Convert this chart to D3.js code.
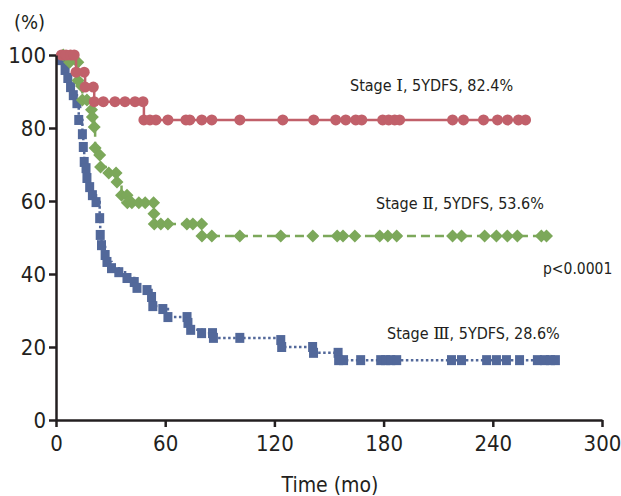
<!DOCTYPE html>
<html>
<head>
<meta charset="utf-8">
<script src="https://cdn.jsdelivr.net/npm/d3@7"></script>
<style>
	body { margin: 0; background: #fff; }
	svg text { font-family: "Liberation Sans Narrow", "DejaVu Sans Condensed", "Arial Narrow", sans-serif; fill: #231f20; }
</style>
</head>
<body>
<div id="chart"></div>
<script>
	// survival data: [time (mo), percent]
	var stageI = [[0,100],[3,100],[5.5,100],[8,100],[10,100],[11,95.3],[15.5,95.3],[16,91.2],[20.5,91.2],
		[21,87.2],[26,87.2],[32.4,87.2],[37.9,87.2],[43.4,87.2],[47.8,87.2],[48.3,82.2],[51.6,82.2],[54.9,82.2],
		[61.5,82.2],[71.4,82.2],[73.5,82.2],[80.1,82.2],[85.6,82.2],[101,82.2],[124.6,82.2],[141.6,82.2],
		[153.7,82.2],[159.2,82.2],[164.7,82.2],[168,82.2],[179.5,82.2],[182.8,82.2],[186.1,82.2],[188.8,82.2],
		[217.9,82.2],[223.9,82.2],[234.9,82.2],[242.6,82.2],[248.1,82.2],[254.1,82.2],[258,82.2]];
	var stageII = [[0,100],[4,100],[7.5,98],[12,98],[12.1,93],[14,91.5],[14.5,87.7],[17,87.7],[19.5,85],
		[20,83],[21,80.3],[21.5,74.5],[24,72.6],[24.5,69.3],[29,67.7],[33,67.7],[33.5,65.2],[36,61.6],[39,61.6],
		[39.2,59.5],[41.7,59.5],[45.5,59.5],[49,59.5],[53.6,59.5],[53.8,56.5],[54,53.7],[57.6,53.7],[61.5,53.7],
		[71.9,53.7],[75.2,53.7],[80,53.7],[80.2,50.4],[85.6,50.4],[101,50.4],[123.5,50.4],[141.1,50.4],
		[154.5,50.4],[157.7,50.4],[164.2,50.4],[177.9,50.4],[182.3,50.4],[187.2,50.4],[217.9,50.4],[222.8,50.4],
		[235.5,50.4],[242,50.4],[248,50.4],[253.5,50.4],[266.7,50.4],[269.5,50.4]];
	var stageIII = [[0,100],[3,98.6],[5,95.9],[6.5,93.7],[8,91.2],[9.5,89],[11.5,86.8],[12.5,82.2],
		[14.5,78.3],[15,74.8],[15.5,70.7],[16.5,69],[17,66.3],[18.5,63.8],[20,61.6],[22,59.7],[24,55.3],
		[24.3,50.7],[25,47.9],[27,45.2],[28,43.3],[30.5,41.6],[34.5,40.5],[39,38.9],[43,37.8],[44.5,36.2],
		[50,35.6],[52.5,33.7],[53.2,31.2],[58.7,30.4],[61.5,28.2],[72,28.2],[72.5,26.6],[74,24.7],[80,23.8],
		[86,23.8],[86.5,22.5],[101,22.5],[123.5,21.9],[124,20],[141,20],[141.5,18.4],[155,18.4],[155.3,16.4],
		[158,16.4],[167.4,16.4],[178.4,16.4],[181.1,16.4],[183.9,16.4],[187.2,16.4],[217.3,16.4],[222.8,16.4],
		[236.6,16.4],[242,16.4],[247.5,16.4],[254.7,16.4],[264.5,16.4],[268.4,16.4],[271.7,16.4],[274.4,16.4]];

	var xTicks = [0, 60, 120, 180, 240, 300];
	var yTicks = [0, 20, 40, 60, 80, 100];
	var stageNames = ["\u2160", "\u2161", "\u2162"];
	var labelTails = [", 5YDFS, 82.4%", ", 5YDFS, 53.6%", ", 5YDFS, 28.6%"];

	var width = 621, height = 496;
	var svg = d3.select('#chart').append('svg')
		.attr('width', width)
		.attr('height', height);

	var x = d3.scaleLinear().domain([0, 300]).range([56, 602]);
	var y = d3.scaleLinear().domain([0, 100]).range([420, 55]);

	var line = d3.line()
		.x(function (d) { return x(d[0]); })
		.y(function (d) { return y(d[1]); })
		.curve(d3.curveStepAfter);

	// series styles, drawn bottom to top
	var series = [
		{ data: stageIII, color: '#52689a', dash: '2.5,2.5', shape: 'square' },
		{ data: stageII, color: '#7ca85a', dash: '9,5', shape: 'diamond' },
		{ data: stageI, color: '#c1606a', dash: null, shape: 'circle' }
	];

	series.forEach(function (s) {
		var g = svg.append('g');
		g.append('path')
			.datum(s.data)
			.attr('d', line)
			.attr('fill', 'none')
			.attr('stroke', s.color)
			.attr('stroke-width', 2.5)
			.attr('stroke-dasharray', s.dash);
		var pts = g.selectAll('.pt').data(s.data.slice(1)).enter();
		if (s.shape === 'circle') {
			pts.append('circle')
				.attr('cx', function (d) { return x(d[0]); })
				.attr('cy', function (d) { return y(d[1]); })
				.attr('r', 5.5)
				.attr('fill', s.color);
		} else if (s.shape === 'diamond') {
			pts.append('path')
				.attr('d', 'M0,-6.5L6.5,0L0,6.5L-6.5,0Z')
				.attr('transform', function (d) { return 'translate(' + x(d[0]) + ',' + y(d[1]) + ')'; })
				.attr('fill', s.color);
		} else {
			pts.append('rect')
				.attr('x', function (d) { return x(d[0]) - 4.5; })
				.attr('y', function (d) { return y(d[1]) - 5; })
				.attr('width', 9)
				.attr('height', 10)
				.attr('fill', s.color);
		}
	});

	// axes
	var xAxis = svg.append('g')
		.attr('transform', 'translate(0,' + y(0) + ')')
		.call(d3.axisBottom(x).tickValues(xTicks).tickSize(7).tickSizeOuter(0));
	var yAxis = svg.append('g')
		.attr('transform', 'translate(' + x(0) + ',0)')
		.call(d3.axisLeft(y).tickValues(yTicks).tickSize(7).tickSizeOuter(0));
	[xAxis, yAxis].forEach(function (a) {
		a.select('.domain').attr('stroke', '#231f20').attr('stroke-width', 2.5);
		a.selectAll('.tick line').attr('stroke', '#231f20').attr('stroke-width', 2.5);
		a.selectAll('.tick text').attr('font-size', 22).attr('fill', '#231f20')
			.style('font-family', '"Liberation Sans Narrow", "DejaVu Sans Condensed", sans-serif');
	});
	xAxis.selectAll('.tick text').attr('dy', '0.95em');
	yAxis.selectAll('.tick text').attr('x', -10);

	svg.append('text').attr('x', 14).attr('y', 29).attr('font-size', 20).text('(%)');
	svg.append('text').attr('x', 330).attr('y', 492).attr('text-anchor', 'middle')
		.attr('font-size', 21).text('Time (mo)');

	var labelPos = [[350, 91], [376, 209], [387, 339]];
	stageNames.forEach(function (n, i) {
		var t = svg.append('text').attr('x', labelPos[i][0]).attr('y', labelPos[i][1])
			.attr('font-size', 16);
		t.append('tspan').text('Stage ');
		t.append('tspan').style('font-family', '"DejaVu Serif", serif').attr('font-size', 17).text(n);
		t.append('tspan').text(labelTails[i]);
	});
	svg.append('text').attr('x', 543).attr('y', 274).attr('font-size', 15.5).text('p<0.0001');
</script>
</body>
</html>
